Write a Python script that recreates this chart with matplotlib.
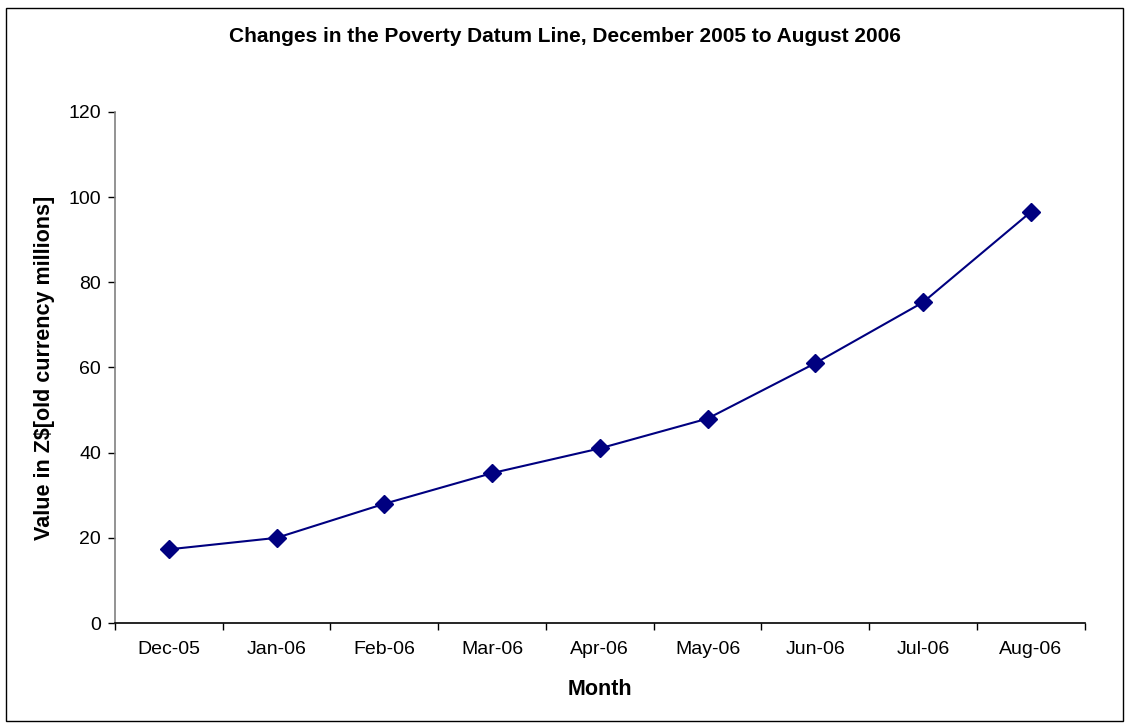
import matplotlib
matplotlib.use("Agg")
import matplotlib.pyplot as plt
from matplotlib.patches import Rectangle
from matplotlib.ticker import FixedLocator

months = ["Dec-05", "Jan-06", "Feb-06", "Mar-06", "Apr-06",
          "May-06", "Jun-06", "Jul-06", "Aug-06"]
pdl_values = [17.3, 20.0, 28.0, 35.2, 41.0, 48.0, 61.0, 75.3, 96.5]
y_ticks = [0, 20, 40, 60, 80, 100, 120]

NAVY = "#000080"
plt.rcParams["font.family"] = ["Liberation Sans", "DejaVu Sans"]

fig = plt.figure(figsize=(11.3, 7.28), dpi=100)
ax = fig.add_axes([0.1018, 0.1442, 0.858, 0.702])

xs = list(range(len(months)))
ax.plot(xs, pdl_values, color=NAVY, linewidth=1.5, marker="D",
        markersize=9, markerfacecolor=NAVY, markeredgecolor=NAVY)

ax.set_xlim(-0.5, len(months) - 0.5)
ax.set_ylim(0, 120)
ax.set_yticks(y_ticks)
ax.set_xticks(xs)
ax.set_xticklabels(months, fontsize=14)
ax.tick_params(axis="x", which="major", length=0, pad=13)
ax.xaxis.set_minor_locator(FixedLocator([i - 0.5 for i in range(len(months) + 1)]))
ax.tick_params(axis="x", which="minor", length=5, width=1, color="black")
ax.tick_params(axis="y", length=5, width=1, colors="black", labelsize=14, pad=5)

for s in ("top", "right"):
    ax.spines[s].set_visible(False)
ax.spines["left"].set_color("#808080")
ax.spines["left"].set_linewidth(1.2)
ax.spines["bottom"].set_linewidth(1.2)

ax.set_xlabel("Month", fontsize=15.5, fontweight="bold", labelpad=15)
ax.set_ylabel("Value in Z$[old currency millions]", fontsize=15.5,
              fontweight="bold", labelpad=10)
fig.text(0.5, 1 - 36 / 728, "Changes in the Poverty Datum Line, December 2005 to August 2006",
         ha="center", va="center", fontsize=15, fontweight="bold")

# outer chart border
fig.patches.append(Rectangle((6 / 1130, 7 / 728), 1 - 13 / 1130, 1 - 15 / 728,
                             transform=fig.transFigure, fill=False,
                             edgecolor="black", linewidth=1))

fig.savefig("out.png", dpi=100)
